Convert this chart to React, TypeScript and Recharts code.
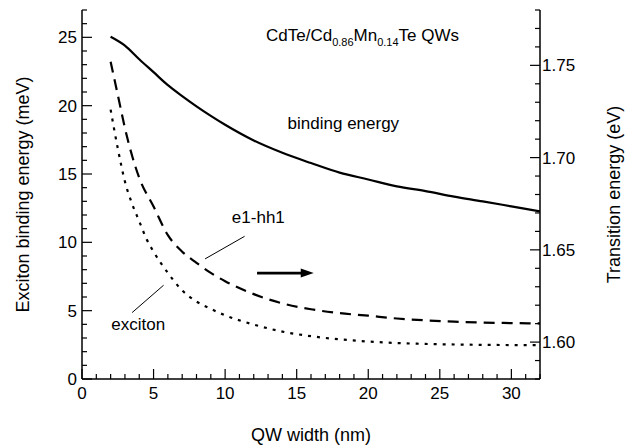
import React from "react";
import { ComposedChart, Line, XAxis, YAxis, ReferenceLine, ReferenceDot } from "recharts";

const FONT = "'Liberation Sans', Arial, Helvetica, sans-serif";

// binding energy (left axis, meV)
const bindingWidth = [2, 3, 4, 5, 6, 7, 8, 9, 10, 12, 14, 16, 18, 20, 22, 24, 26, 28, 30, 32];
const bindingEnergy = [25.05, 24.4, 23.4, 22.45, 21.5, 20.7, 19.95, 19.25, 18.6, 17.45, 16.55, 15.8, 15.1, 14.6, 14.1, 13.75, 13.35, 13.0, 12.63, 12.26];

// e1-hh1 transition (right axis, eV)
const e1hh1Width = [2, 2.5, 3, 3.5, 4, 5, 6, 7, 8, 9, 10, 12, 14, 16, 18, 20, 22, 24, 26, 28, 30, 32];
const e1hh1Energy = [1.752, 1.734, 1.716, 1.701, 1.689, 1.6735, 1.658, 1.649, 1.643, 1.6375, 1.633, 1.626, 1.621, 1.6178, 1.6157, 1.6143, 1.6128, 1.6118, 1.6111, 1.6106, 1.6103, 1.6101];

// exciton transition (right axis, eV)
const excitonWidth = [2, 2.5, 3, 3.5, 4, 4.5, 5, 6, 7, 8, 9, 10, 12, 14, 16, 18, 20, 22, 24, 26, 28, 30, 32];
const excitonEnergy = [1.726, 1.705, 1.687, 1.675, 1.6655, 1.656, 1.649, 1.6375, 1.628, 1.622, 1.618, 1.6145, 1.6095, 1.6057, 1.6032, 1.6015, 1.6003, 1.5995, 1.599, 1.5987, 1.5985, 1.5984, 1.5983];

const xTicks = [0, 1, 2, 3, 4, 5, 6, 7, 8, 9, 10, 11, 12, 13, 14, 15, 16, 17, 18, 19, 20, 21, 22, 23, 24, 25, 26, 27, 28, 29, 30, 31, 32];
const leftTicks = [0, 1, 2, 3, 4, 5, 6, 7, 8, 9, 10, 11, 12, 13, 14, 15, 16, 17, 18, 19, 20, 21, 22, 23, 24, 25, 26, 27];
const rightTicks = [1.58, 1.59, 1.6, 1.61, 1.62, 1.63, 1.64, 1.65, 1.66, 1.67, 1.68, 1.69, 1.7, 1.71, 1.72, 1.73, 1.74, 1.75, 1.76, 1.77, 1.78];

const bindingData = bindingWidth.map((x, i) => ({ x, y: bindingEnergy[i] }));
const e1hh1Data = e1hh1Width.map((x, i) => ({ x, e: e1hh1Energy[i] }));
const excitonData = excitonWidth.map((x, i) => ({ x, e: excitonEnergy[i] }));

const TICK_FONT = 17;
const NOTE_FONT = 17;
const TITLE_FONT = 18;

const LeftTick = (props: any) => {
  const { x, y, payload } = props;
  const v = payload.value;
  const major = v % 5 === 0;
  return (
    <g>
      <line x1={x} y1={y} x2={x + (major ? 10 : 5)} y2={y} stroke="#000" strokeWidth={1.2} />
      {major && (
        <text x={x - 5} y={y} dy={6} textAnchor="end" fontSize={TICK_FONT} fill="#000" fontFamily={FONT}>
          {v}
        </text>
      )}
    </g>
  );
};

const RightTick = (props: any) => {
  const { x, y, payload } = props;
  const v = payload.value;
  const major = Math.round(v * 100) % 5 === 0;
  return (
    <g>
      <line x1={x} y1={y} x2={x - (major ? 10 : 5)} y2={y} stroke="#000" strokeWidth={1.2} />
      {major && (
        <text x={x + 2} y={y} dy={6} textAnchor="start" fontSize={TICK_FONT} fill="#000" fontFamily={FONT}>
          {v.toFixed(2)}
        </text>
      )}
    </g>
  );
};

const BottomTick = (props: any) => {
  const { x, y, payload } = props;
  const v = payload.value;
  const major = v % 5 === 0;
  return (
    <g>
      <line x1={x} y1={y} x2={x} y2={y - (major ? 10 : 5)} stroke="#000" strokeWidth={1.2} />
      {major && (
        <text x={x} y={y} dy={20} textAnchor="middle" fontSize={TICK_FONT} fill="#000" fontFamily={FONT}>
          {v}
        </text>
      )}
    </g>
  );
};

const LeftTitle = (props: any) => {
  const { viewBox } = props;
  const cx = viewBox.x + 23;
  const cy = viewBox.y + viewBox.height / 2;
  return (
    <text x={cx} y={cy} transform={`rotate(-90 ${cx} ${cy})`} textAnchor="middle" dominantBaseline="central" fontSize={TITLE_FONT} fill="#000" fontFamily={FONT}>
      Exciton binding energy (meV)
    </text>
  );
};

const RightTitle = (props: any) => {
  const { viewBox } = props;
  const cx = viewBox.x + 74;
  const cy = viewBox.y + viewBox.height / 2;
  return (
    <text x={cx} y={cy} transform={`rotate(-90 ${cx} ${cy})`} textAnchor="middle" dominantBaseline="central" fontSize={TITLE_FONT} fill="#000" fontFamily={FONT}>
      Transition energy (eV)
    </text>
  );
};

const BottomTitle = (props: any) => {
  const { viewBox } = props;
  return (
    <text x={viewBox.x + viewBox.width / 2} y={viewBox.y + 62} textAnchor="middle" fontSize={TITLE_FONT} fill="#000" fontFamily={FONT}>
      QW width (nm)
    </text>
  );
};

const textAt = (content: React.ReactNode) => (p: any) => (
  <text x={p.cx} y={p.cy} textAnchor="middle" fontSize={NOTE_FONT} fill="#000" fontFamily={FONT}>
    {content}
  </text>
);

const TitleText = textAt(
  <>
    CdTe/Cd
    <tspan fontSize={11} dy={5}>0.86</tspan>
    <tspan dy={-5}>Mn</tspan>
    <tspan fontSize={11} dy={5}>0.14</tspan>
    <tspan dy={-5}>Te QWs</tspan>
  </>
);

const Arrow = (p: any) => {
  const { x1, y1, x2 } = p;
  return (
    <g>
      <line x1={x1} y1={y1} x2={x2 - 8} y2={y1} stroke="#000" strokeWidth={2.6} />
      <polygon points={`${x2},${y1} ${x2 - 13},${y1 - 4.5} ${x2 - 13},${y1 + 4.5}`} fill="#000" />
    </g>
  );
};

export default function App() {
  return (
    <div style={{ position: "absolute", left: 0, top: 0, width: 634, height: 448, background: "#fff" }}>
      <ComposedChart width={634} height={448} margin={{ top: 10, right: 0, bottom: 0, left: 0 }}>
        <XAxis
          xAxisId={0}
          dataKey="x"
          type="number"
          domain={[0, 32]}
          ticks={xTicks}
          interval={0}
          allowDataOverflow
          height={69}
          tickSize={0}
          tickMargin={0}
          tickLine={false}
          axisLine={{ stroke: "#000", strokeWidth: 1.5 }}
          tick={<BottomTick />}
          label={BottomTitle}
        />
        <XAxis
          xAxisId="top"
          orientation="top"
          type="number"
          domain={[0, 32]}
          allowDataOverflow
          height={0}
          tick={false}
          tickLine={false}
          axisLine={{ stroke: "#000", strokeWidth: 1.5 }}
        />
        <YAxis
          yAxisId="left"
          type="number"
          domain={[0, 27]}
          ticks={leftTicks}
          interval={0}
          allowDataOverflow
          width={82}
          tickSize={0}
          tickMargin={0}
          tickLine={false}
          axisLine={{ stroke: "#000", strokeWidth: 1.5 }}
          tick={<LeftTick />}
          label={LeftTitle}
        />
        <YAxis
          yAxisId="right"
          orientation="right"
          type="number"
          domain={[1.58, 1.78]}
          ticks={rightTicks}
          interval={0}
          allowDataOverflow
          width={94}
          tickSize={0}
          tickMargin={0}
          tickLine={false}
          axisLine={{ stroke: "#000", strokeWidth: 1.5 }}
          tick={<RightTick />}
          label={RightTitle}
        />

        <Line
          data={bindingData}
          dataKey="y"
          yAxisId="left"
          type="monotone"
          stroke="#000"
          strokeWidth={2.2}
          dot={false}
          isAnimationActive={false}
        />
        <Line
          data={e1hh1Data}
          dataKey="e"
          yAxisId="right"
          type="monotone"
          stroke="#000"
          strokeWidth={2.2}
          strokeDasharray="11 7"
          dot={false}
          isAnimationActive={false}
        />
        <Line
          data={excitonData}
          dataKey="e"
          yAxisId="right"
          type="monotone"
          stroke="#000"
          strokeWidth={2.2}
          strokeDasharray="3 6"
          dot={false}
          isAnimationActive={false}
        />

        {/* leader lines and arrow, in axis units */}
        <ReferenceLine yAxisId="left" segment={[{ x: 11.36, y: 10.44 }, { x: 8.6, y: 8.79 }]} stroke="#000" strokeWidth={1} />
        <ReferenceLine yAxisId="left" segment={[{ x: 3.5, y: 4.86 }, { x: 5.7, y: 6.86 }]} stroke="#000" strokeWidth={1} />
        <ReferenceLine yAxisId="left" segment={[{ x: 12.23, y: 7.75 }, { x: 16.19, y: 7.75 }]} shape={Arrow} />

        <ReferenceDot yAxisId="left" x={19.6} y={24.73} r={0} shape={TitleText} />
        <ReferenceDot yAxisId="left" x={18.26} y={18.3} r={0} shape={textAt("binding energy")} />
        <ReferenceDot yAxisId="left" x={12.32} y={11.39} r={0} shape={textAt("e1-hh1")} />
        <ReferenceDot yAxisId="left" x={3.93} y={3.58} r={0} shape={textAt("exciton")} />
      </ComposedChart>
    </div>
  );
}
